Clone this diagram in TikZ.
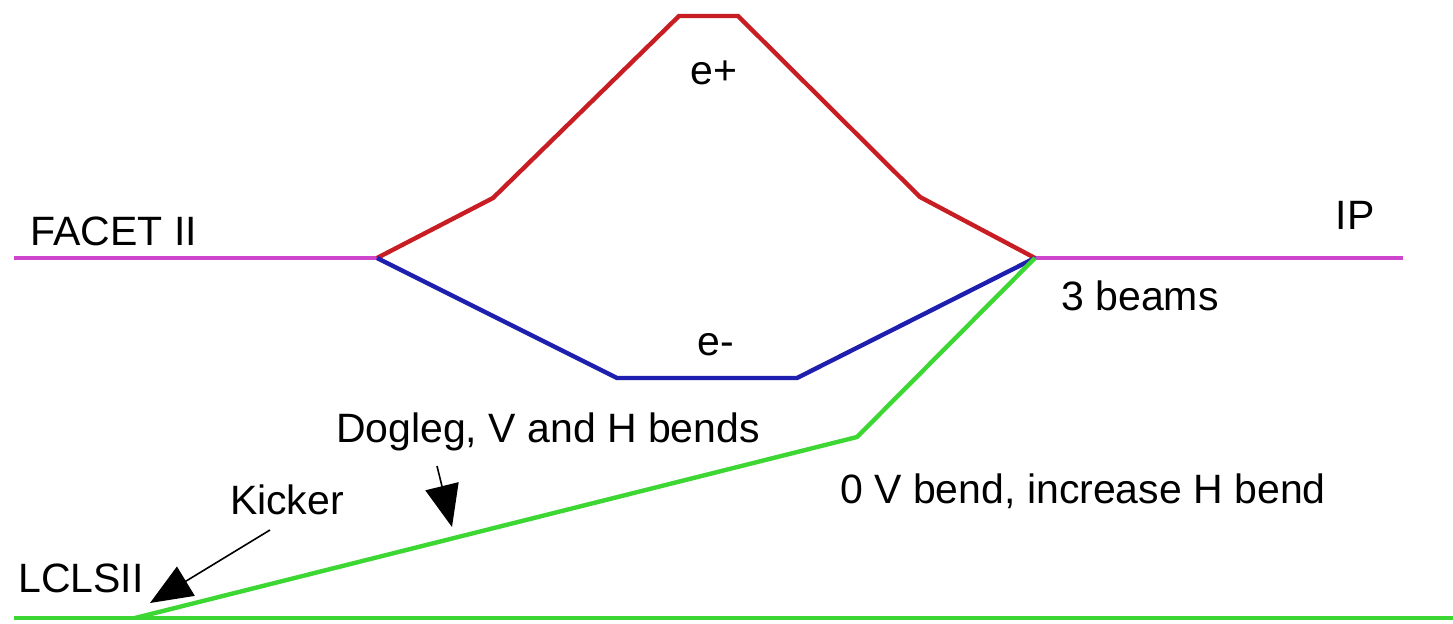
\documentclass[tikz,border=0pt]{standalone}
\usepackage{fontspec}
\setmainfont{Liberation Sans}
\usetikzlibrary{arrows.meta}

\definecolor{beamred}{RGB}{200,30,35}
\definecolor{beamblue}{RGB}{30,30,175}
\definecolor{beammag}{RGB}{205,70,205}
\definecolor{beamgreen}{RGB}{60,215,50}

\tikzset{
  beam/.style={line width=2.2pt, line join=miter},
  lbl/.style={font=\fontsize{20.5}{24}\selectfont, inner sep=0pt},
  pointer/.style={thick, -{Triangle[length=21pt,width=17pt]}}
}

\begin{document}
\begin{tikzpicture}[x=0.5pt,y=-0.5pt]
\useasboundingbox (0,0) rectangle (1453,623);

% beam line points
\coordinate (facet) at (14,258);
\coordinate (split) at (377,258);
\coordinate (merge) at (1035,258);
\coordinate (ip) at (1403,258);
\coordinate (lcls) at (14,618);
\coordinate (kick) at (135,618);
\coordinate (lend) at (1453,618);
\coordinate (dog) at (857,437);

% main lines
\draw[beam, beammag] (facet) -- (split);
\draw[beam, beammag] (merge) -- (ip);
\draw[beam, beamgreen] (lcls) -- (lend);

% positron chicane
\draw[beam, beamred] (split) -- (493,198) -- (679,16) -- (738,16) -- (920,197) -- (merge);

% electron chicane
\draw[beam, beamblue] (split) -- (617,378) -- (797,378) -- (merge);

% dogleg
\draw[beam, beamgreen] (kick) -- (dog) -- (merge);

% labels
\node[lbl] (facetlbl) at (114,231) {FACET II};
\node[lbl] (iplbl) at (1355,215) {IP};
\node[lbl] (beams) at (1140,296) {3 beams};
\node[lbl] (eplus) at (714,73) {e+};
\node[lbl] (eminus) at (716,345) {e-};
\node[lbl] (doglbl) at (548,432) {Dogleg, V and H bends};
\node[lbl] (bendlbl) at (1083,491) {0 V bend, increase H bend};
\node[lbl] (kicklbl) at (287,500) {Kicker};
\node[lbl] (lclslbl) at (81,578) {LCLSII};

% pointers
\coordinate (kicktip) at (150,603);
\coordinate (dogtip) at (452,527);
\draw[pointer] (270,530) -- (kicktip);
\draw[pointer] (437,466) -- (dogtip);

\end{tikzpicture}
\end{document}
